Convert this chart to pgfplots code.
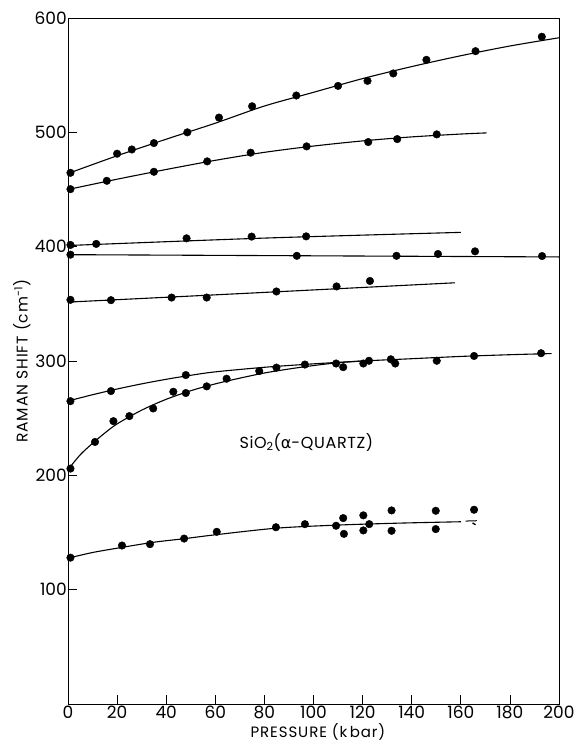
\documentclass[border=0pt]{standalone}
\usepackage{pgfplots}
\pgfplotsset{compat=1.18}
\usepackage{fontspec}
\setmainfont{Poppins}
\newfontfamily\dejavu{DejaVu Sans}
\begin{document}
\begin{tikzpicture}
\path[use as bounding box] (-68pt,-40pt) rectangle (509pt,704pt);
\begin{axis}[
  at={(0,0)}, anchor=south west,
  scale only axis, width=491pt, height=686pt,
  xmin=0, xmax=200, ymin=0, ymax=600,
  xtick={0,20,...,200}, ytick={100,200,...,600},
  tick pos=left, tick align=inside, major tick length=9pt,
  tick style={line width=0.7pt, black},
  axis line style={line width=0.8pt},
  /pgf/number format/assume math mode=true,
  ticklabel style={font=\fontsize{17}{19}\selectfont},
  yticklabel style={inner sep=1pt},
  xticklabel style={inner sep=1.5pt},
  xlabel={PRESSURE (k\,bar)},
  ylabel={RAMAN SHIFT (cm\textsuperscript{-1})},
  xlabel style={font=\fontsize{15}{17}\selectfont\addfontfeature{LetterSpace=6}, at={(axis description cs:0.509,-0.041)}, anchor=center},
  ylabel style={font=\fontsize{15.5}{17}\selectfont\addfontfeature{LetterSpace=6}, at={(axis description cs:-0.094,0.5)}, anchor=center, rotate=0},
  every axis plot/.append style={black},
  mk/.style={only marks, mark=*, mark size=3.8pt},
  ln/.style={no marks, smooth, line width=1.1pt},
]
% top series
\addplot[mk] coordinates {(1,464.6)(20,481.3)(26,485)(35,490.6)(48.6,500)(61.5,512.9)(75,522.8)(93,532.2)(110,540.6)(122,545)(132.5,551.5)(146,563.4)(166,571)(193,583.6)};
\addplot[ln] coordinates {(0,464)(20,479.5)(40,494)(60,508)(80,523)(100,535)(120,547)(140,557.5)(160,567)(180,575.5)(200,582.7)};
% second
\addplot[mk] coordinates {(1,450.3)(15.8,457.6)(35,465.5)(56.7,474.6)(74.4,482.2)(97.2,487.7)(122.3,491.5)(134.1,494.1)(150.2,498.2)};
\addplot[ln] coordinates {(0,450)(20,459)(40,467.5)(60,475.5)(80,482.5)(100,488)(120,492.5)(140,496)(160,498.5)(170.5,499.5)};
% third
\addplot[mk] coordinates {(1,401.5)(11.5,402.4)(48.3,407.3)(74.8,408.8)(97,409)};
\addplot[ln] coordinates {(0,401)(80,407.5)(160,412.5)};
% fourth
\addplot[mk] coordinates {(1,393)(93.2,392)(133.8,392)(150.7,393.6)(165.8,395.9)(193.1,391.8)};
\addplot[ln] coordinates {(0,393)(100,392)(200,391)};
% fifth
\addplot[mk] coordinates {(1,353.5)(17.5,353.2)(42.2,355.5)(56.5,355.5)(84.9,360.8)(109.4,365.2)(123,370)};
\addplot[ln] coordinates {(0,351.5)(80,360)(157.6,368.4)};
% sixth upper
\addplot[mk] coordinates {(1,264.9)(17.5,273.7)(48,287.7)(96.5,296.9)(109.2,297.8)(112.1,294.6)(120.3,297.8)(122.6,300.2)(131.5,301.5)(133.3,297.8)(150.2,300.2)(165.4,304.4)(192.7,306.8)};
\addplot[ln] coordinates {(0,265)(10,270.5)(20,275.5)(30,280)(40,284)(50,287.5)(60,290.5)(80,294.5)(100,297.5)(120,300)(140,302)(160,304)(180,305.5)(197,306.5)};
% sixth lower
\addplot[mk] coordinates {(1,205.9)(11,229.2)(18.5,247.4)(25,251.8)(34.7,258.5)(42.9,273.1)(48,272)(56.5,277.8)(64.6,284.5)(77.9,291.2)(84.9,294.2)};
\addplot[ln] coordinates {(0,205)(5,218)(10,228)(15,237)(20,245)(30,257)(40,266.5)(50,274)(60,280)(70,285)(80,289.5)(90,293)(100,296)(110,298.5)(120,300)};
% bottom
\addplot[mk] coordinates {(1,128)(22,138.6)(33.4,139.8)(47.3,144.7)(60.6,150.6)(84.7,154.6)(96.5,157.3)(109.2,155.9)(112.1,162.6)(112.4,148.8)(120.3,165)(120.3,151.8)(122.7,157.3)(131.8,169.3)(131.8,151.5)(149.8,169)(149.8,153)(165.4,169.9)};
\addplot[ln] coordinates {(0,127.5)(10,132.5)(22,137)(35,141.5)(47,144.5)(60,148)(85,153.8)(110,156.5)(135,158.2)(160,159.4)};
\addplot[no marks, line width=1pt] coordinates {(162,160)(166.5,160.3)};
\addplot[no marks, line width=1.4pt] coordinates {(164.8,158.3)(166,156.8)};
\node[font=\fontsize{16}{18}\selectfont\addfontfeature{LetterSpace=4}, anchor=center] at (axis cs:97.1,229) {SiO\textsubscript{2}({\dejavu α}-QUARTZ)};
\end{axis}
\end{tikzpicture}
\end{document}
